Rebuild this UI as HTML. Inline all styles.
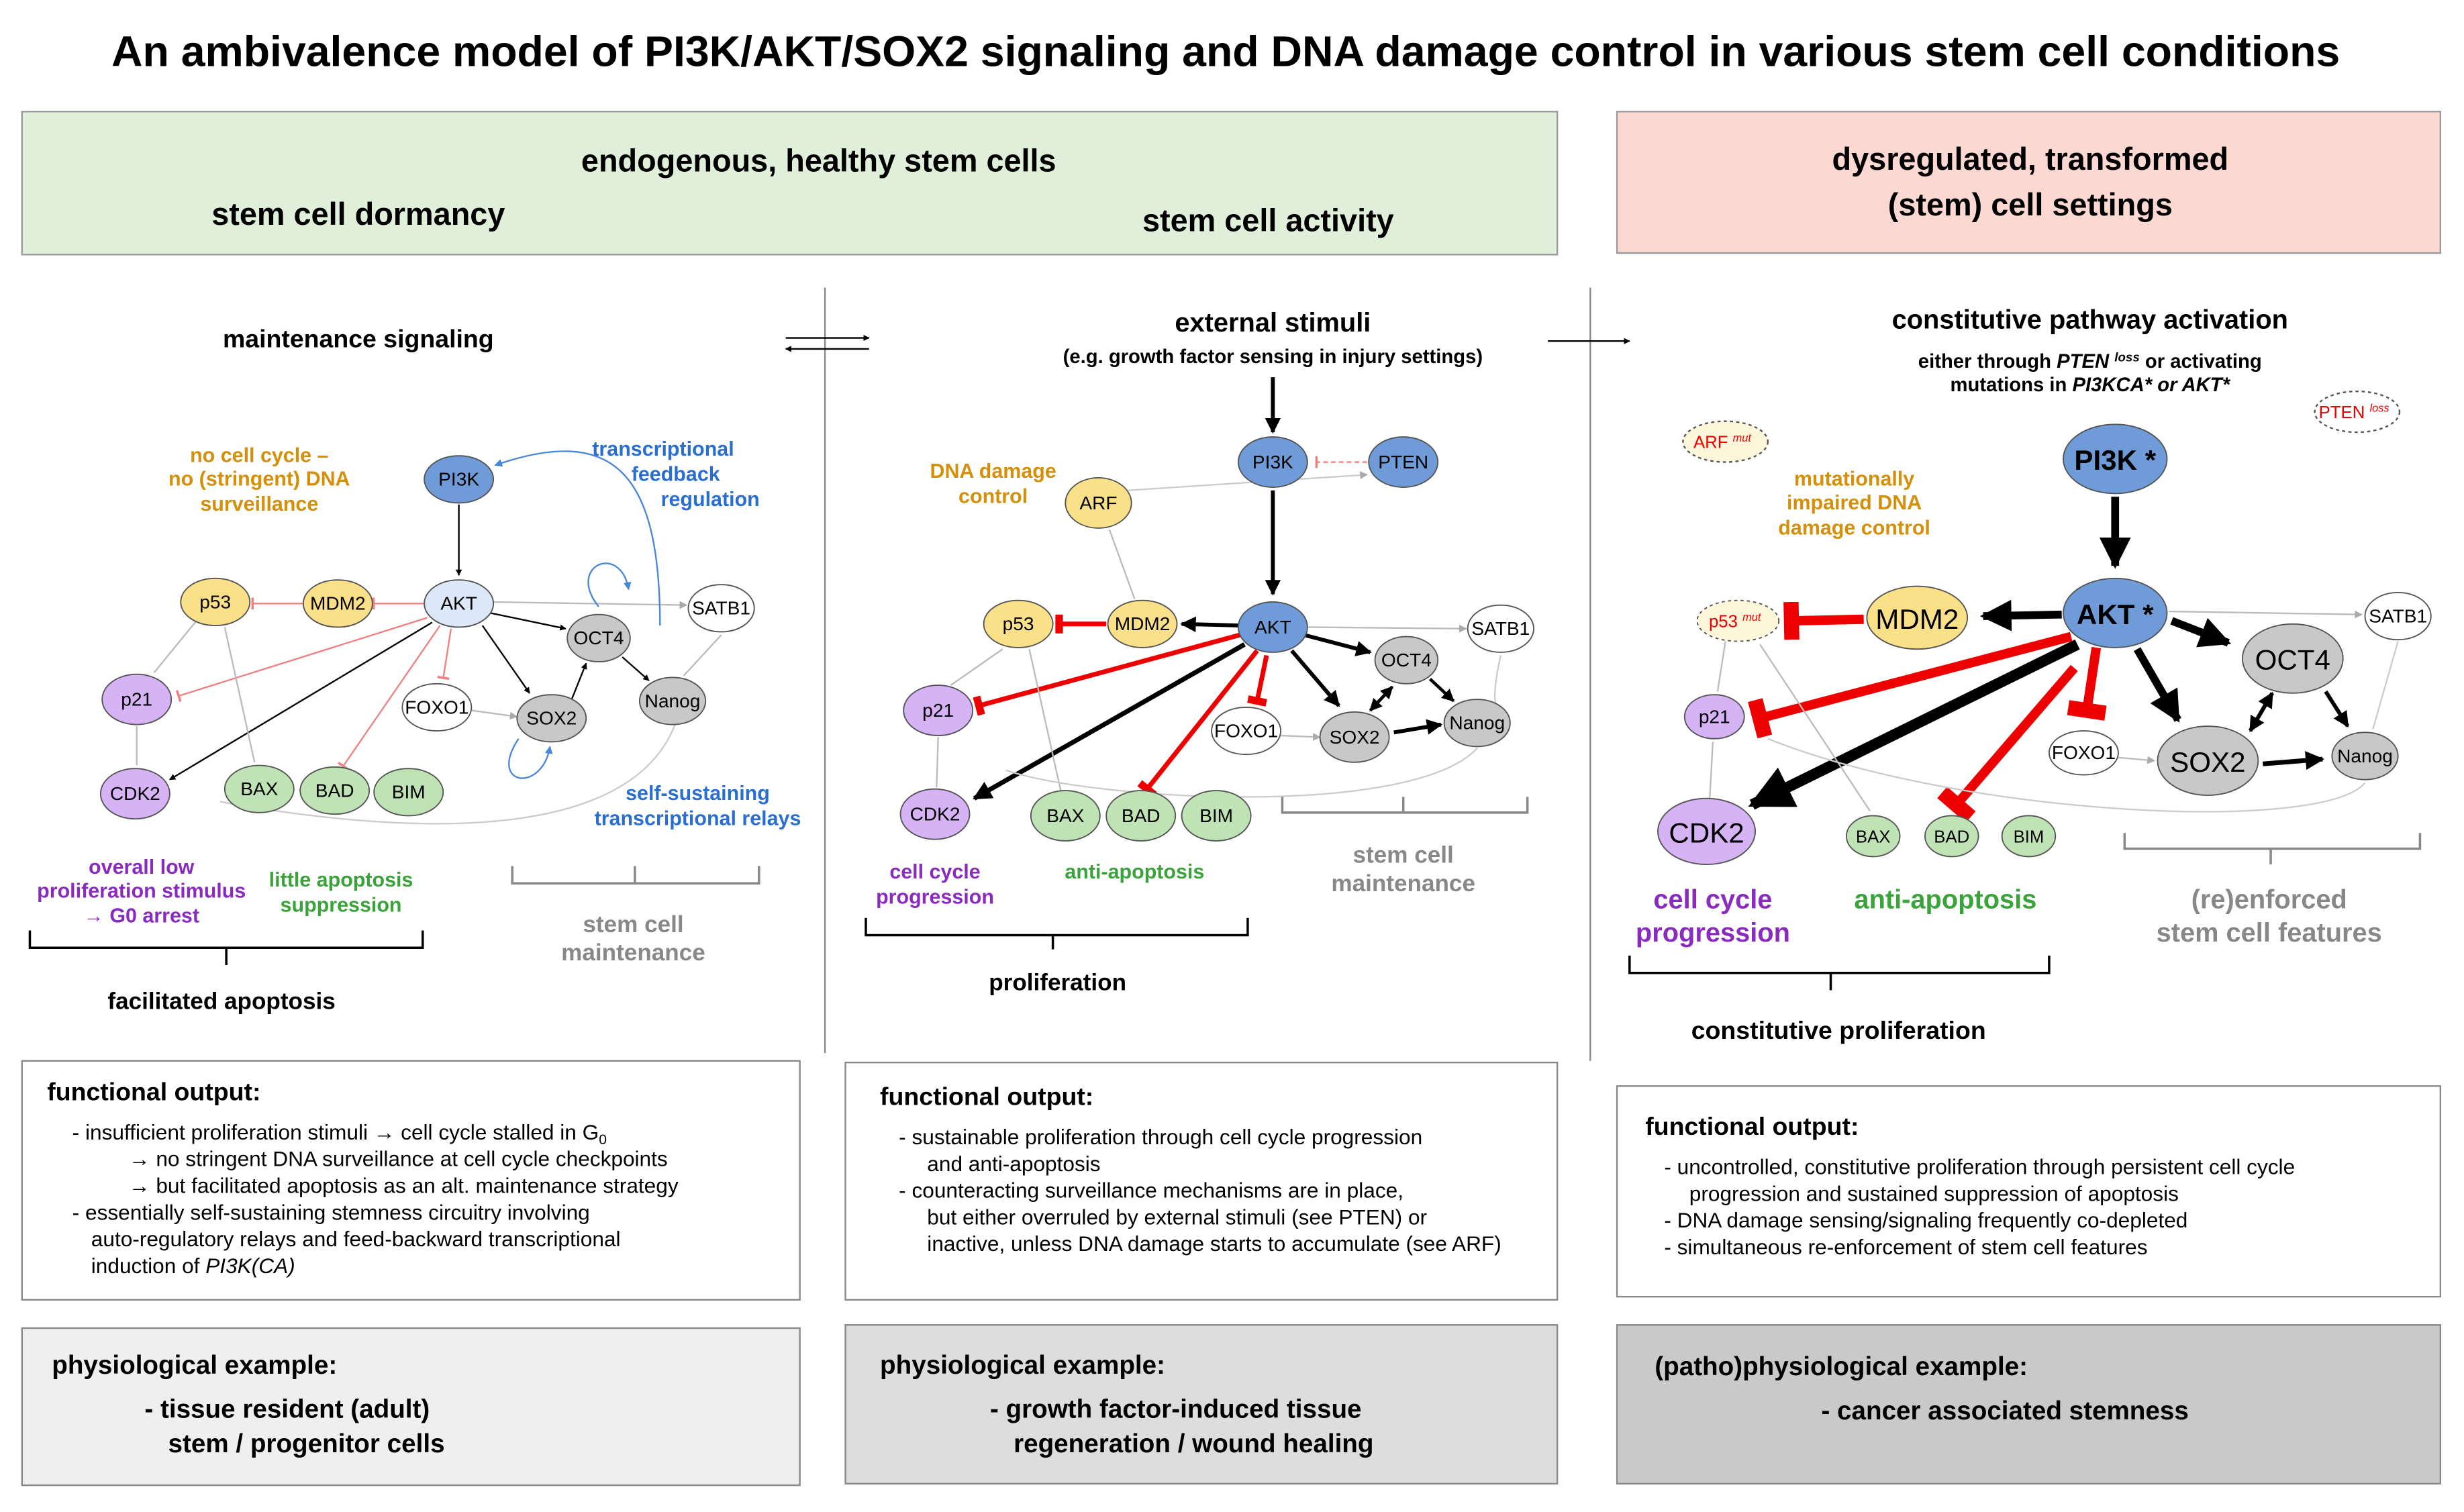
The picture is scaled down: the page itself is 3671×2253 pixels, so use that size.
<!DOCTYPE html>
<html><head><meta charset="utf-8"><style>
html,body{margin:0;padding:0;background:#fff}
svg{display:block}
text{font-family:"Liberation Sans",Arial,sans-serif}
.b{font-weight:bold}
</style></head><body>
<svg width="3671" height="2253" viewBox="0 0 1568 962" preserveAspectRatio="none" xmlns="http://www.w3.org/2000/svg">
<defs>
<marker id="ab" viewBox="0 0 10 10" refX="9" refY="5" markerWidth="4" markerHeight="4" orient="auto"><path d="M0,0L10,5L0,10z" fill="#000"/></marker>
<marker id="ag" viewBox="0 0 10 10" refX="9" refY="5" markerWidth="5" markerHeight="5" orient="auto"><path d="M0,0L10,5L0,10z" fill="#aaa"/></marker>
<marker id="abl" viewBox="0 0 10 10" refX="9" refY="5" markerWidth="5" markerHeight="5" orient="auto"><path d="M0,0L10,5L0,10z" fill="#4a86d8"/></marker>
<marker id="tr" viewBox="0 0 4 10" refX="2" refY="5" markerWidth="2" markerHeight="4" orient="auto"><rect x="0" y="0" width="4" height="10" fill="#e00"/></marker>
<marker id="trl" viewBox="0 0 4 10" refX="2" refY="5" markerWidth="3" markerHeight="8" orient="auto"><rect x="0" y="0" width="2" height="10" fill="#f08080"/></marker>
</defs>
<text x="780" y="42" text-anchor="middle" class="b" font-size="27.5">An ambivalence model of PI3K/AKT/SOX2 signaling and DNA damage control in various stem cell conditions</text>
<rect x="14" y="71" width="977" height="91" fill="#e0efd9" stroke="#999"/>
<text x="521" y="109" text-anchor="middle" class="b" font-size="20">endogenous, healthy stem cells</text>
<text x="228" y="143" text-anchor="middle" class="b" font-size="20">stem cell dormancy</text>
<text x="807" y="147" text-anchor="middle" class="b" font-size="20">stem cell activity</text>
<rect x="1029" y="71" width="524" height="90" fill="#fbd9d2" stroke="#999"/>
<text x="1292" y="108" text-anchor="middle" class="b" font-size="20">dysregulated, transformed</text>
<text x="1292" y="137" text-anchor="middle" class="b" font-size="20">(stem) cell settings</text>
<line x1="525" y1="183" x2="525" y2="670" stroke="#888"/>
<line x1="1012" y1="183" x2="1012" y2="675" stroke="#888"/>
<line x1="500" y1="215" x2="553" y2="215" stroke="#000" marker-end="url(#ab)"/>
<line x1="553" y1="222" x2="500" y2="222" stroke="#000" marker-end="url(#ab)"/>
<line x1="985" y1="217" x2="1037" y2="217" stroke="#000" marker-end="url(#ab)"/>

<!-- Panel 1 -->
<text x="228" y="221" text-anchor="middle" class="b" font-size="16">maintenance signaling</text>
<g fill="#d4900a" class="b" font-size="13" text-anchor="middle"><text x="165" y="294">no cell cycle –</text><text x="165" y="309">no (stringent) DNA</text><text x="165" y="325">surveillance</text></g>
<g fill="#2a6fcf" class="b" font-size="13" text-anchor="middle"><text x="422" y="290">transcriptional</text><text x="430" y="306">feedback</text><text x="452" y="322">regulation</text><text x="444" y="509">self-sustaining</text><text x="444" y="525">transcriptional relays</text></g>
<g stroke-width="1" fill="none">
<line x1="292" y1="321" x2="292" y2="366" stroke="#000" marker-end="url(#ab)"/>
<line x1="271" y1="384" x2="237" y2="384" stroke="#f08080" marker-end="url(#trl)"/>
<line x1="193" y1="384" x2="160" y2="384" stroke="#f08080" marker-end="url(#trl)"/>
<line x1="272" y1="393" x2="113" y2="443" stroke="#f08080" marker-end="url(#trl)"/>
<line x1="275" y1="396" x2="108" y2="496" stroke="#000" marker-end="url(#ab)"/>
<line x1="287" y1="400" x2="282" y2="432" stroke="#f08080" marker-end="url(#trl)"/>
<line x1="280" y1="398" x2="218" y2="488" stroke="#f08080" marker-end="url(#trl)"/>
<line x1="312" y1="390" x2="360" y2="400" stroke="#000" marker-end="url(#ab)"/>
<line x1="307" y1="398" x2="337" y2="441" stroke="#000" marker-end="url(#ab)"/>
<line x1="313" y1="383" x2="437" y2="385" stroke="#bbb" marker-end="url(#ag)"/>
<line x1="363" y1="447" x2="373" y2="422" stroke="#000" marker-end="url(#ab)"/>
<line x1="396" y1="418" x2="413" y2="433" stroke="#000" marker-end="url(#ab)"/>
<line x1="300" y1="452" x2="329" y2="456" stroke="#bbb" marker-end="url(#ag)"/>
<path d="M381,386 C360,360 395,345 400,375" stroke="#4a86d8" marker-end="url(#abl)"/>
<path d="M330,470 C310,500 345,505 350,475" stroke="#4a86d8" marker-end="url(#abl)"/>
<path d="M420,398 C420,300 390,270 315,296" stroke="#4a86d8" marker-end="url(#abl)"/>
<path d="M430,460 C400,540 250,530 140,510" stroke="#ccc"/>
<line x1="125" y1="395" x2="98" y2="428" stroke="#bbb"/>
<line x1="143" y1="399" x2="162" y2="485" stroke="#bbb"/>
<line x1="87" y1="462" x2="87" y2="487" stroke="#bbb"/>
<line x1="459" y1="404" x2="435" y2="430" stroke="#bbb"/>
</g>
<g stroke="#555" stroke-width="0.8" font-size="12" text-anchor="middle">
<ellipse cx="292" cy="305" rx="22" ry="15" fill="#6f9bd8"/><text x="292" y="309" stroke="none">PI3K</text>
<ellipse cx="292" cy="384" rx="22" ry="15" fill="#dce8f8"/><text x="292" y="388" stroke="none">AKT</text>
<ellipse cx="137" cy="383" rx="22" ry="15" fill="#fbe08a"/><text x="137" y="387" stroke="none">p53</text>
<ellipse cx="215" cy="384" rx="22" ry="15" fill="#fbe08a"/><text x="215" y="388" stroke="none">MDM2</text>
<ellipse cx="459" cy="387" rx="21" ry="15" fill="#fff"/><text x="459" y="391" stroke="none">SATB1</text>
<ellipse cx="381" cy="406" rx="20" ry="15" fill="#c8c8c8"/><text x="381" y="410" stroke="none">OCT4</text>
<ellipse cx="87" cy="445" rx="22" ry="16" fill="#d6b3f5"/><text x="87" y="449" stroke="none">p21</text>
<ellipse cx="278" cy="450" rx="22" ry="15" fill="#fff"/><text x="278" y="454" stroke="none">FOXO1</text>
<ellipse cx="351" cy="457" rx="22" ry="15" fill="#c8c8c8"/><text x="351" y="461" stroke="none">SOX2</text>
<ellipse cx="428" cy="446" rx="21" ry="15" fill="#c8c8c8"/><text x="428" y="450" stroke="none">Nanog</text>
<ellipse cx="86" cy="505" rx="22" ry="16" fill="#d6b3f5"/><text x="86" y="509" stroke="none">CDK2</text>
<ellipse cx="165" cy="502" rx="22" ry="15" fill="#bfe3b4"/><text x="165" y="506" stroke="none">BAX</text>
<ellipse cx="213" cy="503" rx="22" ry="15" fill="#bfe3b4"/><text x="213" y="507" stroke="none">BAD</text>
<ellipse cx="260" cy="504" rx="22" ry="15" fill="#bfe3b4"/><text x="260" y="508" stroke="none">BIM</text>
</g>
<g fill="#8a2bbf" class="b" font-size="13" text-anchor="middle"><text x="90" y="556">overall low</text><text x="90" y="571">proliferation stimulus</text><text x="90" y="587">→ G0 arrest</text></g>
<g fill="#3aa33a" class="b" font-size="13" text-anchor="middle"><text x="217" y="564">little apoptosis</text><text x="217" y="580">suppression</text></g>
<g fill="#888" class="b" font-size="15" text-anchor="middle"><text x="403" y="593">stem cell</text><text x="403" y="611">maintenance</text></g>
<path d="M19,592V603H269V592M144,603V614" stroke="#000" stroke-width="1.5" fill="none"/>
<path d="M326,551V562H483V551M404,562V551" stroke="#888" stroke-width="1.5" fill="none"/>
<text x="141" y="642" text-anchor="middle" class="b" font-size="15">facilitated apoptosis</text>

<!-- Panel 2 -->
<text x="810" y="211" text-anchor="middle" class="b" font-size="17">external stimuli</text>
<text x="810" y="231" text-anchor="middle" class="b" font-size="12.5">(e.g. growth factor sensing in injury settings)</text>
<g fill="#d4900a" class="b" font-size="13" text-anchor="middle"><text x="632" y="304">DNA damage</text><text x="632" y="320">control</text></g>
<g fill="none">
<line x1="810" y1="240" x2="810" y2="275" stroke="#000" stroke-width="2.5" marker-end="url(#ab)"/>
<line x1="810" y1="312" x2="810" y2="378" stroke="#000" stroke-width="2.5" marker-end="url(#ab)"/>
<line x1="870" y1="294" x2="837" y2="294" stroke="#f08080" stroke-dasharray="3,2" marker-end="url(#trl)"/>
<line x1="790" y1="398" x2="752" y2="397" stroke="#000" stroke-width="2.5" marker-end="url(#ab)"/>
<line x1="704" y1="397" x2="674" y2="397" stroke="#e00" stroke-width="3" marker-end="url(#tr)"/>
<line x1="789" y1="404" x2="623" y2="449" stroke="#e00" stroke-width="3" marker-end="url(#tr)"/>
<line x1="792" y1="410" x2="620" y2="508" stroke="#000" stroke-width="3" marker-end="url(#ab)"/>
<line x1="806" y1="417" x2="800" y2="446" stroke="#e00" stroke-width="3" marker-end="url(#tr)"/>
<line x1="800" y1="414" x2="730" y2="502" stroke="#e00" stroke-width="3" marker-end="url(#tr)"/>
<line x1="830" y1="404" x2="872" y2="415" stroke="#000" stroke-width="2.5" marker-end="url(#ab)"/>
<line x1="822" y1="414" x2="852" y2="449" stroke="#000" stroke-width="2.5" marker-end="url(#ab)"/>
<line x1="887" y1="466" x2="917" y2="461" stroke="#000" stroke-width="2.5" marker-end="url(#ab)"/>
<line x1="872" y1="452" x2="886" y2="437" stroke="#000" stroke-width="2" marker-end="url(#ab)"/>
<line x1="886" y1="437" x2="872" y2="452" stroke="#000" stroke-width="2" marker-end="url(#ab)"/>
<line x1="910" y1="432" x2="925" y2="446" stroke="#000" stroke-width="2" marker-end="url(#ab)"/>
<line x1="831" y1="399" x2="933" y2="400" stroke="#bbb" marker-end="url(#ag)"/>
<line x1="815" y1="468" x2="840" y2="469" stroke="#bbb" marker-end="url(#ag)"/>
<line x1="718" y1="312" x2="870" y2="302" stroke="#ccc" marker-end="url(#ag)"/>
<line x1="706" y1="337" x2="722" y2="381" stroke="#bbb"/>
<line x1="638" y1="413" x2="605" y2="436" stroke="#bbb"/>
<line x1="655" y1="413" x2="675" y2="503" stroke="#bbb"/>
<line x1="597" y1="469" x2="596" y2="501" stroke="#bbb"/>
<path d="M940,476 C900,520 700,510 640,490" stroke="#ccc"/>
<path d="M955,417 C950,440 950,450 955,452" stroke="#ccc"/>
</g>
<g stroke="#555" stroke-width="0.8" font-size="12" text-anchor="middle">
<ellipse cx="810" cy="294" rx="22" ry="16" fill="#6f9bd8"/><text x="810" y="298" stroke="none">PI3K</text>
<ellipse cx="893" cy="294" rx="22" ry="16" fill="#6f9bd8"/><text x="893" y="298" stroke="none">PTEN</text>
<ellipse cx="699" cy="320" rx="21" ry="16" fill="#fbe08a"/><text x="699" y="324" stroke="none">ARF</text>
<ellipse cx="810" cy="399" rx="22" ry="16" fill="#6f9bd8"/><text x="810" y="403" stroke="none">AKT</text>
<ellipse cx="727" cy="397" rx="22" ry="15" fill="#fbe08a"/><text x="727" y="401" stroke="none">MDM2</text>
<ellipse cx="648" cy="397" rx="22" ry="15" fill="#fbe08a"/><text x="648" y="401" stroke="none">p53</text>
<ellipse cx="955" cy="400" rx="21" ry="15" fill="#fff"/><text x="955" y="404" stroke="none">SATB1</text>
<ellipse cx="895" cy="420" rx="20" ry="15" fill="#c8c8c8"/><text x="895" y="424" stroke="none">OCT4</text>
<ellipse cx="597" cy="452" rx="22" ry="16" fill="#d6b3f5"/><text x="597" y="456" stroke="none">p21</text>
<ellipse cx="793" cy="465" rx="22" ry="15" fill="#fff"/><text x="793" y="469" stroke="none">FOXO1</text>
<ellipse cx="862" cy="469" rx="22" ry="16" fill="#c8c8c8"/><text x="862" y="473" stroke="none">SOX2</text>
<ellipse cx="940" cy="460" rx="21" ry="15" fill="#c8c8c8"/><text x="940" y="464" stroke="none">Nanog</text>
<ellipse cx="595" cy="518" rx="22" ry="16" fill="#d6b3f5"/><text x="595" y="522" stroke="none">CDK2</text>
<ellipse cx="678" cy="519" rx="22" ry="16" fill="#bfe3b4"/><text x="678" y="523" stroke="none">BAX</text>
<ellipse cx="726" cy="519" rx="22" ry="16" fill="#bfe3b4"/><text x="726" y="523" stroke="none">BAD</text>
<ellipse cx="774" cy="519" rx="22" ry="16" fill="#bfe3b4"/><text x="774" y="523" stroke="none">BIM</text>
</g>
<g fill="#8a2bbf" class="b" font-size="13" text-anchor="middle"><text x="595" y="559">cell cycle</text><text x="595" y="575">progression</text></g>
<text x="722" y="559" fill="#3aa33a" class="b" font-size="13" text-anchor="middle">anti-apoptosis</text>
<g fill="#888" class="b" font-size="15" text-anchor="middle"><text x="893" y="549">stem cell</text><text x="893" y="567">maintenance</text></g>
<path d="M551,584V595H794V584M670,595V604" stroke="#000" stroke-width="1.5" fill="none"/>
<path d="M816,507V517H972V507M893,517V507" stroke="#888" stroke-width="1.5" fill="none"/>
<text x="673" y="630" text-anchor="middle" class="b" font-size="15">proliferation</text>

<!-- Panel 3 -->
<text x="1330" y="209" text-anchor="middle" class="b" font-size="17">constitutive pathway activation</text>
<text x="1330" y="234" text-anchor="middle" class="b" font-size="12.5">either through <tspan font-style="italic">PTEN <tspan font-size="8" dy="-4">loss</tspan></tspan><tspan dy="4"> or activating</tspan></text>
<text x="1330" y="249" text-anchor="middle" class="b" font-size="12.5">mutations in <tspan font-style="italic">PI3KCA* or AKT*</tspan></text>
<ellipse cx="1500" cy="262" rx="27" ry="13" fill="#fff" stroke="#555" stroke-dasharray="2,2"/>
<text x="1498" y="266" text-anchor="middle" font-size="11" fill="#e00">PTEN <tspan font-size="7" dy="-4" font-style="italic">loss</tspan></text>
<ellipse cx="1098" cy="281" rx="27" ry="13" fill="#fdf6da" stroke="#555" stroke-dasharray="2,2"/>
<text x="1096" y="285" text-anchor="middle" font-size="11" fill="#e00">ARF <tspan font-size="7" dy="-4" font-style="italic">mut</tspan></text>
<g fill="#d4900a" class="b" font-size="13" text-anchor="middle"><text x="1180" y="309">mutationally</text><text x="1180" y="324">impaired DNA</text><text x="1180" y="340">damage control</text></g>
<g fill="none">
<line x1="1346" y1="316" x2="1346" y2="360" stroke="#000" stroke-width="5" marker-end="url(#ab)"/>
<line x1="1312" y1="391" x2="1262" y2="392" stroke="#000" stroke-width="5" marker-end="url(#ab)"/>
<line x1="1186" y1="394" x2="1140" y2="395" stroke="#e00" stroke-width="6" marker-end="url(#tr)"/>
<line x1="1318" y1="405" x2="1120" y2="457" stroke="#e00" stroke-width="6" marker-end="url(#tr)"/>
<line x1="1322" y1="410" x2="1115" y2="512" stroke="#000" stroke-width="7" marker-end="url(#ab)"/>
<line x1="1334" y1="412" x2="1328" y2="452" stroke="#e00" stroke-width="6" marker-end="url(#tr)"/>
<line x1="1320" y1="425" x2="1245" y2="512" stroke="#e00" stroke-width="6" marker-end="url(#tr)"/>
<line x1="1382" y1="395" x2="1418" y2="409" stroke="#000" stroke-width="5" marker-end="url(#ab)"/>
<line x1="1360" y1="413" x2="1386" y2="458" stroke="#000" stroke-width="5" marker-end="url(#ab)"/>
<line x1="1440" y1="486" x2="1478" y2="483" stroke="#000" stroke-width="3" marker-end="url(#ab)"/>
<line x1="1432" y1="465" x2="1446" y2="441" stroke="#000" stroke-width="2.5" marker-end="url(#ab)"/>
<line x1="1446" y1="441" x2="1432" y2="465" stroke="#000" stroke-width="2.5" marker-end="url(#ab)"/>
<line x1="1480" y1="440" x2="1494" y2="462" stroke="#000" stroke-width="2.5" marker-end="url(#ab)"/>
<line x1="1380" y1="389" x2="1503" y2="391" stroke="#bbb" marker-end="url(#ag)"/>
<line x1="1348" y1="482" x2="1371" y2="484" stroke="#bbb" marker-end="url(#ag)"/>
<line x1="1098" y1="408" x2="1093" y2="440" stroke="#bbb"/>
<line x1="1120" y1="410" x2="1190" y2="516" stroke="#bbb"/>
<line x1="1090" y1="472" x2="1088" y2="508" stroke="#bbb"/>
<line x1="1526" y1="408" x2="1510" y2="464" stroke="#ccc"/>
<path d="M1505,498 C1480,530 1250,520 1125,470" stroke="#ccc"/>
</g>
<g stroke="#555" stroke-width="0.8" text-anchor="middle">
<ellipse cx="1346" cy="292" rx="33" ry="22" fill="#6f9bd8"/><text x="1346" y="299" stroke="none" class="b" font-size="18">PI3K *</text>
<ellipse cx="1346" cy="390" rx="33" ry="22" fill="#6f9bd8"/><text x="1346" y="397" stroke="none" class="b" font-size="18">AKT *</text>
<ellipse cx="1220" cy="393" rx="32" ry="20" fill="#fbe08a"/><text x="1220" y="400" stroke="none" font-size="18">MDM2</text>
<ellipse cx="1106" cy="395" rx="26" ry="13" fill="#fdf6da" stroke-dasharray="2,2"/><text x="1104" y="399" stroke="none" font-size="11" fill="#e00">p53 <tspan font-size="7" dy="-4" font-style="italic">mut</tspan></text>
<ellipse cx="1526" cy="392" rx="21" ry="15" fill="#fff"/><text x="1526" y="396" stroke="none" font-size="12">SATB1</text>
<ellipse cx="1459" cy="419" rx="32" ry="22" fill="#c8c8c8"/><text x="1459" y="426" stroke="none" font-size="18">OCT4</text>
<ellipse cx="1091" cy="456" rx="19" ry="14" fill="#d6b3f5"/><text x="1091" y="460" stroke="none" font-size="12">p21</text>
<ellipse cx="1326" cy="479" rx="22" ry="14" fill="#fff"/><text x="1326" y="483" stroke="none" font-size="12">FOXO1</text>
<ellipse cx="1405" cy="484" rx="32" ry="22" fill="#c8c8c8"/><text x="1405" y="491" stroke="none" font-size="18">SOX2</text>
<ellipse cx="1505" cy="481" rx="21" ry="15" fill="#c8c8c8"/><text x="1505" y="485" stroke="none" font-size="12">Nanog</text>
<ellipse cx="1086" cy="529" rx="31" ry="21" fill="#d6b3f5"/><text x="1086" y="536" stroke="none" font-size="18">CDK2</text>
<ellipse cx="1192" cy="532" rx="17" ry="13" fill="#bfe3b4"/><text x="1192" y="536" stroke="none" font-size="11">BAX</text>
<ellipse cx="1242" cy="532" rx="17" ry="13" fill="#bfe3b4"/><text x="1242" y="536" stroke="none" font-size="11">BAD</text>
<ellipse cx="1291" cy="532" rx="17" ry="13" fill="#bfe3b4"/><text x="1291" y="536" stroke="none" font-size="11">BIM</text>
</g>
<g fill="#8a2bbf" class="b" font-size="17" text-anchor="middle"><text x="1090" y="578">cell cycle</text><text x="1090" y="599">progression</text></g>
<text x="1238" y="578" fill="#3aa33a" class="b" font-size="17" text-anchor="middle">anti-apoptosis</text>
<g fill="#888" class="b" font-size="17" text-anchor="middle"><text x="1444" y="578">(re)enforced</text><text x="1444" y="599">stem cell features</text></g>
<path d="M1037,608V619H1304V608M1165,619V630" stroke="#000" stroke-width="1.5" fill="none"/>
<path d="M1352,530V540H1540V530M1445,540V550" stroke="#888" stroke-width="1.5" fill="none"/>
<text x="1170" y="661" text-anchor="middle" class="b" font-size="16">constitutive proliferation</text>

<!-- output boxes -->
<rect x="14" y="675" width="495" height="152" fill="#fff" stroke="#888"/>
<rect x="538" y="676" width="453" height="151" fill="#fff" stroke="#888"/>
<rect x="1029" y="691" width="524" height="134" fill="#fff" stroke="#888"/>
<g font-size="13.5">
<text x="30" y="700" class="b" font-size="16">functional output:</text>
<text x="46" y="725">-  insufficient proliferation stimuli →  cell cycle stalled in G<tspan font-size="9" dy="3">0</tspan></text>
<text x="82" y="742">→ no stringent DNA surveillance at cell cycle checkpoints</text>
<text x="82" y="759">→ but facilitated apoptosis as an alt. maintenance strategy</text>
<text x="46" y="776">-  essentially self-sustaining stemness circuitry involving</text>
<text x="58" y="793">auto-regulatory relays and feed-backward transcriptional</text>
<text x="58" y="810">induction of <tspan font-style="italic">PI3K(CA)</tspan></text>
<text x="560" y="703" class="b" font-size="16">functional output:</text>
<text x="572" y="728">-    sustainable proliferation through cell cycle progression</text>
<text x="590" y="745">and anti-apoptosis</text>
<text x="572" y="762">-    counteracting surveillance mechanisms are in place,</text>
<text x="590" y="779">but either overruled by external stimuli (see PTEN) or</text>
<text x="590" y="796">inactive, unless DNA damage starts to accumulate (see ARF)</text>
<text x="1047" y="722" class="b" font-size="16">functional output:</text>
<text x="1059" y="747">-   uncontrolled, constitutive proliferation through persistent cell cycle</text>
<text x="1075" y="764">progression and sustained suppression of apoptosis</text>
<text x="1059" y="781">-   DNA damage sensing/signaling frequently co-depleted</text>
<text x="1059" y="798">-   simultaneous re-enforcement of stem cell features</text>
</g>
<rect x="14" y="845" width="495" height="100" fill="#efefef" stroke="#888"/>
<rect x="538" y="843" width="453" height="101" fill="#dddddd" stroke="#888"/>
<rect x="1029" y="843" width="524" height="101" fill="#c9c9c9" stroke="#888"/>
<g class="b" font-size="16.5">
<text x="33" y="874">physiological example:</text>
<text x="92" y="902">-  tissue resident (adult)</text>
<text x="107" y="924">stem / progenitor cells</text>
<text x="560" y="874">physiological example:</text>
<text x="630" y="902">-  growth factor-induced tissue</text>
<text x="645" y="924">regeneration / wound healing</text>
<text x="1053" y="875">(patho)physiological example:</text>
<text x="1159" y="903">- cancer associated stemness</text>
</g>
</svg>
</body></html>
